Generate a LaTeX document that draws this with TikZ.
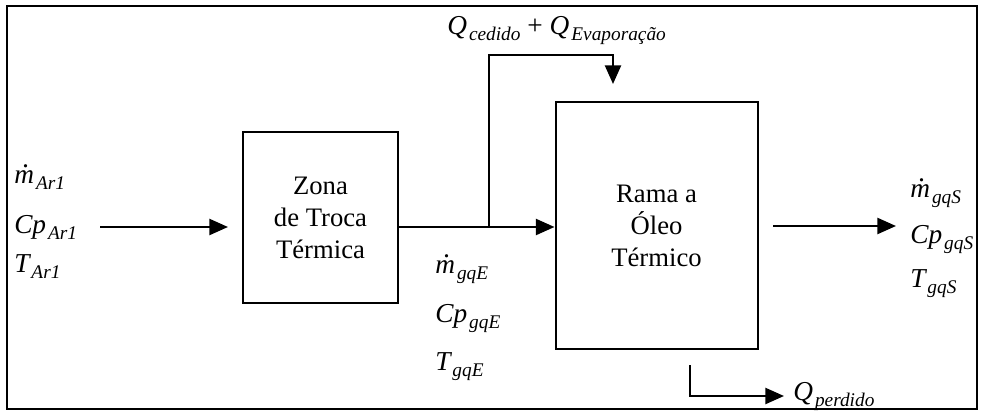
\documentclass[tikz,border=0pt]{standalone}
\usepackage{fontspec}
\setmainfont{Liberation Serif}
\usetikzlibrary{arrows.meta,positioning}
\tikzstyle{arrow} = [line width=1.8pt,-{Triangle[length=14pt,width=12pt]}]
\tikzstyle{block} = [rectangle, draw=black, line width=1.5pt, align=center,
font=\fontsize{20}{24}\selectfont]
\tikzstyle{var} = [anchor=base west, inner sep=0pt,
font=\fontsize{20.5}{24}\selectfont\itshape]
\newcommand{\sub}[1]{\kern1.5pt\raisebox{-5pt}{\fontsize{14.5}{14.5}\selectfont\itshape #1}}
\newcommand{\mdot}{\rlap{\kern6.5pt\raisebox{0.55em}{.}}m}

\begin{document}
\begin{tikzpicture}[x=0.75pt,y=-0.75pt]
  \useasboundingbox (0,0) rectangle (982,414);
  \draw[line width=1.2pt] (7,6) rectangle (977,409);
  \node [block, minimum width=116.25pt, minimum height=128.25pt] (zona)
    at (320.5,217.5) {Zona\\de Troca\\Térmica};
  \node [block, minimum width=151.5pt, minimum height=185.25pt] (rama)
    at (656.5,225.5) {Rama a\\Óleo\\Térmico};
  % entrada
  \node [var] (mar) at (14,183) {\mdot\sub{Ar1}};
  \node [var] (cpar) at (14,233) {Cp\sub{Ar1}};
  \node [var] (tar) at (14,272) {T\sub{Ar1}};
  \coordinate (ein) at (100,227);
  \coordinate (eout) at (228,227);
  \draw[arrow] (ein) -- (eout);
  % gases quentes
  \node [var] (mge) at (435,273) {\mdot\sub{gqE}};
  \node [var] (cpge) at (435,322) {Cp\sub{gqE}};
  \node [var] (tge) at (435,370) {T\sub{gqE}};
  \coordinate (split) at (489,227);
  \draw[arrow] (zona.east |- split) -- (rama.west |- split);
  \node [var] (qced) at (447,34) {Q\sub{cedido} \upshape+ \itshape Q\sub{Evaporação}};
  \coordinate (ctop) at (613,55);
  \coordinate (qin) at (613,84);
  \draw[arrow] (split) |- (ctop) -- (qin);
  % saida
  \node [var] (mgs) at (910,197) {\mdot\sub{gqS}};
  \node [var] (cpgs) at (910,243) {Cp\sub{gqS}};
  \node [var] (tgs) at (910,287) {T\sub{gqS}};
  \coordinate (sin) at (773,226);
  \coordinate (sout) at (896,226);
  \draw[arrow] (sin) -- (sout);
  \node [var] (qperd) at (793,400) {Q\sub{perdido}};
  \coordinate (pin) at (690,365);
  \coordinate (pout) at (784,396);
  \draw[arrow] (pin) |- (pout);
\end{tikzpicture}
\end{document}
